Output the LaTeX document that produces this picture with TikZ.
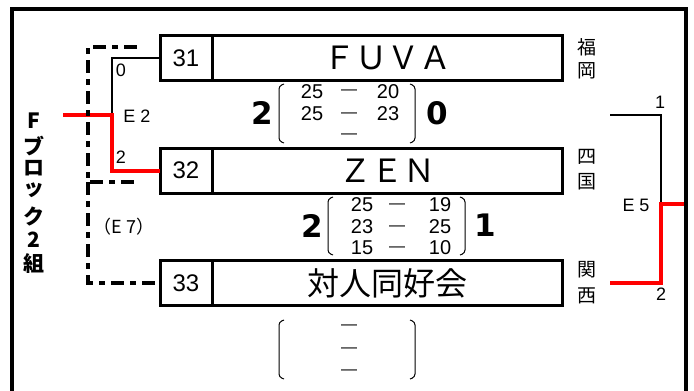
\documentclass[tikz,border=0pt]{standalone}
\usepackage{fontspec}
\setmainfont{Liberation Sans}
\newfontfamily\jp{Noto Sans CJK JP}
\newfontfamily\heavy{DejaVu Sans}
\usetikzlibrary{positioning}
\newcommand\fsz[1]{\fontsize{#1bp}{#1bp}\selectfont}
% score brackets: (left x,right x)(top y,bottom y)
\def\scorebrk(#1,#2)(#3,#4){%
  \draw[line width=1bp, rounded corners=3bp] (#1+5,#3) -- (#1,#3+2) -- (#1,#4-2) -- (#1+5,#4);
  \draw[line width=1bp, rounded corners=3bp] (#2-5,#3) -- (#2,#3+2) -- (#2,#4-2) -- (#2-5,#4);}
\tikzset{
  cell/.style={draw, line width=3bp, inner sep=0pt, outer sep=0pt, minimum height=45bp},
  numcell/.style={cell, minimum width=52bp, font=\fsz{24}},
  namecell/.style={cell, minimum width=350bp, font=\jp\fsz{32}},
  winline/.style={red, line width=4bp},
  plainline/.style={line width=2.5bp},
  dashdotline/.style={line width=3.5bp, dash pattern=on 13bp off 6bp on 6bp off 6bp},
  lbl/.style={font=\fsz{18}, inner sep=0pt},
  pt/.style={font=\fsz{20}, inner sep=0pt},
  ptdash/.style={font=\fsz{16}, inner sep=0pt},
  setwin/.style={font=\heavy\bfseries\fsz{31}, inner sep=0pt},
  pref/.style={font=\jp\fsz{19}, inner sep=0pt},
  blocktxt/.style={font=\jp\bfseries\fsz{21}, inner sep=0pt},
}
\begin{document}
\begin{tikzpicture}[x=1bp, y=-1bp]
		%%%%% START %%%%%
		\useasboundingbox (0,0) rectangle (694,390);
		\draw[line width=4bp] (12,395) -- (12,9) -- (686,9) -- (686,395);
		
		% block title
		\node[blocktxt] (tF) at (34,121) {F};
		\node[blocktxt] (tBu) at (34,146) {ブ};
		\node[blocktxt] (tRo) at (34,168) {ロ};
		\node[blocktxt] (tTsu) at (34,190) {ッ};
		\node[blocktxt] (tKu) at (34,216) {ク};
		\node[blocktxt] (tTwo) at (34,240) {2};
		\node[blocktxt] (tKumi) at (34,264) {組};
		
		% teams
		\node[numcell] (n31) at (186,58) {31};
		\node[namecell, right=0pt of n31] (t31) {ＦＵＶＡ};
		\node[numcell] (n32) at (186,170.5) {32};
		\node[namecell, right=0pt of n32] (t32) {ＺＥＮ};
		\node[numcell] (n33) at (186,283) {33};
		\node[namecell, right=0pt of n33] (t33) {対人同好会};
		
		\node[pref] (p1) at (587,47) {福};
		\node[pref] (p2) at (587,71) {岡};
		\node[pref] (p3) at (587,157) {四};
		\node[pref] (p4) at (587,182) {国};
		\node[pref] (p5) at (587,270) {関};
		\node[pref] (p6) at (587,296) {西};
		
		% left bracket (E2)
		\coordinate (e2) at (112,115);
		\coordinate (fin) at (63,115);
		\draw[plainline] (n31.west) -| (e2);
		\draw[winline] (fin) -- (e2) |- (n32.west);
		\node[lbl] (l0) at (121,70) {0};
		\node[lbl] (l2) at (121,157) {2};
		\node[lbl] (le2) at (137,116) {E 2};
		
		% E7
		\coordinate (dda) at (137,47);
		\coordinate (ddb) at (88,182);
		\coordinate (ddc) at (137,182);
		\draw[dashdotline] (dda) -| (ddb) -- (ddc);
		\draw[dashdotline] (ddb) |- (n33.west);
		\node[lbl, font=\jp\fsz{18}] (le7) at (124,227) {（E 7）};
		
		% right bracket (E5)
		\coordinate (w12) at (610,115);
		\coordinate (w33) at (610,283);
		\coordinate (e5) at (661,204);
		\coordinate (fout) at (684,204);
		\draw[plainline] (w12) -| (e5);
		\draw[winline] (fout) -- (e5) |- (w33);
		\node[lbl] (l1) at (660,102) {1};
		\node[lbl] (l2b) at (661,294) {2};
		\node[lbl] (le5) at (636,205) {E 5};
		
		% match 31-32
		\node[setwin] (s1a) at (262,113) {2};
		\node[setwin] (s1b) at (437,113) {0};
		\scorebrk(279,415)(84,143)
		\node[pt] (a1) at (312,92) {25};
		\node[ptdash] (a2) at (349,92) {—};
		\node[pt] (a3) at (388,92) {20};
		\node[pt] (a4) at (312,114) {25};
		\node[ptdash] (a5) at (349,115) {—};
		\node[pt] (a6) at (388,114) {23};
		\node[ptdash] (a7) at (349,136) {—};
		
		% match 32-33
		\node[setwin] (s2a) at (312,226) {2};
		\node[setwin] (s2b) at (485,225) {1};
		\scorebrk(328,465)(197,255)
		\node[pt] (b1) at (362,205) {25};
		\node[ptdash] (b2) at (397,206) {—};
		\node[pt] (b3) at (440,205) {19};
		\node[pt] (b4) at (362,227) {23};
		\node[ptdash] (b5) at (397,228) {—};
		\node[pt] (b6) at (440,227) {25};
		\node[pt] (b7) at (362,248) {15};
		\node[ptdash] (b8) at (397,249) {—};
		\node[pt] (b9) at (440,248) {10};
		
		% empty match
		\scorebrk(279,415)(320,379)
		\node[ptdash] (c1) at (349,327) {—};
		\node[ptdash] (c2) at (349,350) {—};
		\node[ptdash] (c3) at (349,372) {—};
		%%%%% END %%%%%
\end{tikzpicture}
\end{document}
